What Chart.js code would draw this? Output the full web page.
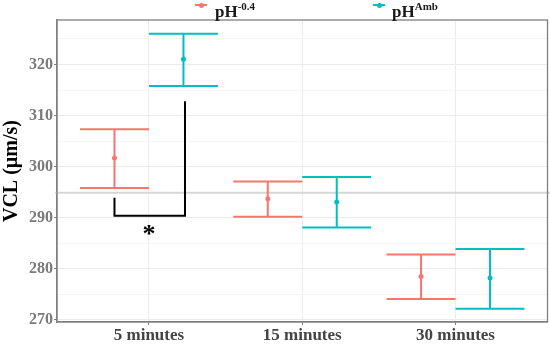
<!DOCTYPE html>
<html><head><meta charset="utf-8">
<script src="https://cdn.jsdelivr.net/npm/chart.js@4/dist/chart.umd.min.js"></script>
<style>
html,body{margin:0;padding:0;background:#fff;}
#wrap{position:relative;width:550px;height:344px;}
.lg{position:absolute;font-family:"Liberation Serif",serif;font-weight:bold;font-size:17px;line-height:17px;color:#1a1a1a;white-space:nowrap;}
.lg sup{font-size:11px;line-height:0;vertical-align:7px;}
.ic{position:absolute;height:2px;width:12px;}
.dt{position:absolute;width:5px;height:5px;border-radius:50%;}
</style></head>
<body><div id="wrap"><canvas id="c" width="550" height="344"></canvas>
<div class="ic" style="left:195px;top:4px;background:#F8766D"></div><div class="dt" style="left:198.5px;top:2.5px;background:#F8766D"></div>
<div class="lg" style="left:215px;top:3px">pH<sup>-0.4</sup></div>
<div class="ic" style="left:373px;top:4px;background:#00BFC4"></div><div class="dt" style="left:376.5px;top:2.5px;background:#00BFC4"></div>
<div class="lg" style="left:392px;top:3px">pH<sup>Amb</sup></div>
</div>
<script>
const categories = ['5 minutes', '15 minutes', '30 minutes'];
const seriesNames = ['pH-0.4', 'pHAmb'];
const lowMean  = [301.7, 293.7, 278.5];
const lowLower = [295.8, 290.2, 274.1];
const lowUpper = [307.3, 297.1, 282.8];
const ambMean  = [321.0, 293.1, 278.2];
const ambLower = [315.8, 288.1, 272.2];
const ambUpper = [326.0, 298.0, 283.9];
const yTicks = [270, 280, 290, 300, 310, 320];
const refLine = 294.9;
const bracket = {left: 293.9, bottom: 290.4, right: 312.8, star: 286.6};

const RED = '#F8766D', CYAN = '#00BFC4';
const DODGE = 0.225;

const series = [
  {mean: lowMean, lo: lowLower, hi: lowUpper, color: RED, off: -DODGE},
  {mean: ambMean, lo: ambLower, hi: ambUpper, color: CYAN, off: DODGE}
];

const decor = {
  id: 'decor',
  beforeDatasetsDraw(chart) {
    const {ctx, chartArea: a, scales: {x, y}} = chart;
    ctx.save();
    ctx.strokeStyle = '#d6d6d6'; ctx.lineWidth = 2;
    const yr = y.getPixelForValue(refLine);
    ctx.beginPath(); ctx.moveTo(a.left - 2, yr); ctx.lineTo(550, yr); ctx.stroke();
    ctx.lineWidth = 2;
    series.forEach(s => {
      ctx.strokeStyle = s.color;
      s.mean.forEach((m, i) => {
        const cx = x.getPixelForValue(i + s.off);
        const x0 = x.getPixelForValue(i + s.off - DODGE);
        const x1 = x.getPixelForValue(i + s.off + DODGE);
        const yl = y.getPixelForValue(s.lo[i]);
        const yh = y.getPixelForValue(s.hi[i]);
        ctx.beginPath();
        ctx.moveTo(cx, yl); ctx.lineTo(cx, yh);
        ctx.moveTo(x0, yl); ctx.lineTo(x1, yl);
        ctx.moveTo(x0, yh); ctx.lineTo(x1, yh);
        ctx.stroke();
      });
    });
    ctx.restore();
  },
  afterDraw(chart) {
    const {ctx, chartArea: a, scales: {x, y}} = chart;
    ctx.save();
    ctx.strokeStyle = '#7f7f7f'; ctx.lineWidth = 1.3;
    ctx.strokeRect(a.left, a.top, a.right - a.left, a.bottom - a.top);
    ctx.strokeStyle = '#000'; ctx.lineWidth = 2;
    const xl = x.getPixelForValue(-DODGE), xr = x.getPixelForValue(DODGE + 0.01);
    ctx.beginPath();
    ctx.moveTo(xl, y.getPixelForValue(bracket.left));
    ctx.lineTo(xl, y.getPixelForValue(bracket.bottom));
    ctx.lineTo(xr, y.getPixelForValue(bracket.bottom));
    ctx.lineTo(xr, y.getPixelForValue(bracket.right));
    ctx.stroke();
    ctx.fillStyle = '#000';
    ctx.font = 'bold 26px "Liberation Serif", serif';
    ctx.textAlign = 'center'; ctx.textBaseline = 'middle';
    ctx.fillText('*', x.getPixelForValue(0), y.getPixelForValue(bracket.star));
    ctx.restore();
  }
};

new Chart(document.getElementById('c'), {
  type: 'scatter',
  data: {
    datasets: series.map((s, k) => ({
      label: seriesNames[k],
      data: s.mean.map((m, i) => ({x: i + s.off, y: m})),
      pointRadius: 2.5, pointHoverRadius: 2.5,
      backgroundColor: s.color, borderColor: s.color, borderWidth: 0
    }))
  },
  options: {
    responsive: false, animation: false,
    layout: {padding: {top: 20, right: 2, left: 0, bottom: 0}},
    plugins: {legend: {display: false}, tooltip: {enabled: false}},
    scales: {
      x: {
        type: 'linear', min: -0.6, max: 2.6,
        afterBuildTicks: sc => { sc.ticks = categories.map((c, i) => ({value: i})); },
        afterFit: sc => { sc.height = 22; },
        ticks: {
          callback: v => categories[v],
          color: '#444444', padding: 0, maxRotation: 0,
          font: {family: '"Liberation Serif", serif', weight: 'bold', size: 17}
        },
        grid: {color: '#ececec', tickColor: '#7f7f7f', tickLength: 3, lineWidth: 1},
        border: {color: '#7f7f7f', width: 1.3}
      },
      y: {
        type: 'linear', min: 269.6, max: 328.7,
        afterBuildTicks: sc => {
          const t = [];
          for (let v = 270; v <= 325; v += 5) t.push({value: v, major: yTicks.includes(v)});
          sc.ticks = t;
        },
        afterFit: sc => { sc.width = 57; },
        ticks: {
          callback: v => yTicks.includes(v) ? String(v) : '',
          color: '#7a7a7a', padding: 1,
          font: {family: '"Liberation Serif", serif', weight: 'bold', size: 16}
        },
        grid: {
          color: c => (c.tick && yTicks.includes(c.tick.value)) ? '#ebebeb' : '#f5f5f5',
          tickColor: c => (c.tick && yTicks.includes(c.tick.value)) ? '#7f7f7f' : 'rgba(0,0,0,0)',
          tickLength: 3, lineWidth: 1
        },
        border: {color: '#7f7f7f', width: 1.3},
        title: {
          display: true, text: 'VCL (µm/s)', color: '#000', padding: {top: 0, bottom: 0},
          font: {family: '"Liberation Serif", serif', weight: 'bold', size: 20}
        }
      }
    }
  },
  plugins: [decor]
});
</script></body></html>
